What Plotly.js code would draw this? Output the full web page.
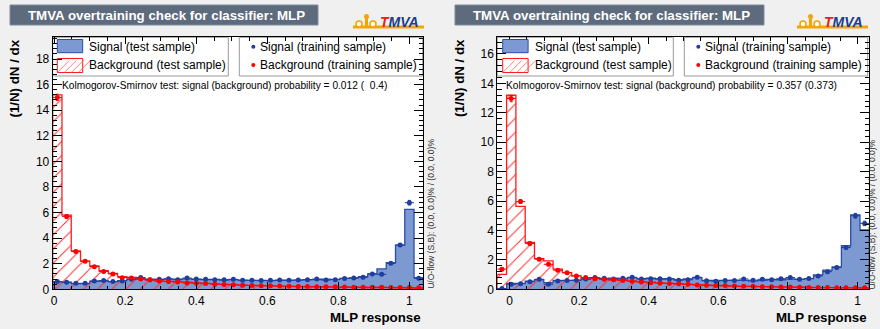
<!DOCTYPE html>
<html><head><meta charset="utf-8">
<script src="https://cdn.plot.ly/plotly-3.0.1.min.js"></script>
<style>html,body{margin:0;padding:0;background:#f0f0f0;}#chart{width:880px;height:329px;}</style>
</head><body><div id="chart"></div>
<script>
// ---------------- data ----------------
const NBINS = 40;
const rangeL = [-0.004, 1.039];
const rangeR = [-0.035, 1.034];
const yMaxL = 19.7;
const yMaxR = 17.13;
const xTickVals = [0, 0.2, 0.4, 0.6, 0.8, 1];
const xTickText = ["0", "0.2", "0.4", "0.6", "0.8", "1"];

const sigTestL  = [0.6, 0.55, 0.45, 0.45, 0.62, 0.65, 0.6, 0.68, 0.8, 0.85, 0.8, 0.78, 0.8, 0.8, 0.82, 0.78, 0.75, 0.78, 0.72, 0.75, 0.72, 0.7, 0.7, 0.68, 0.7, 0.72, 0.72, 0.75, 0.75, 0.8, 0.78, 0.85, 0.9, 0.98, 1.2, 1.59, 2.08, 3.46, 6.25, 0.91];
const sigTrainL = [0.6, 0.55, 0.47, 0.47, 0.65, 0.68, 0.6, 0.65, 0.78, 0.92, 0.75, 0.78, 0.82, 0.75, 0.88, 0.8, 0.78, 0.75, 0.75, 0.78, 0.7, 0.7, 0.68, 0.7, 0.72, 0.7, 0.72, 0.75, 0.8, 0.72, 0.75, 0.85, 0.88, 0.95, 1.2, 1.17, 2.03, 3.46, 6.77, 0.86];
const bgTestL   = [15.2, 5.8, 3.0, 2.2, 1.82, 1.45, 1.25, 0.99, 0.94, 0.8, 0.72, 0.66, 0.62, 0.58, 0.55, 0.5, 0.46, 0.42, 0.38, 0.35, 0.33, 0.3, 0.28, 0.26, 0.25, 0.23, 0.22, 0.2, 0.2, 0.18, 0.17, 0.16, 0.16, 0.15, 0.14, 0.14, 0.13, 0.12, 0.1, 0.08];
const bgTrainL  = [15.0, 5.7, 2.95, 2.2, 1.77, 1.4, 1.2, 0.91, 0.88, 0.8, 0.75, 0.64, 0.6, 0.58, 0.5, 0.48, 0.45, 0.4, 0.38, 0.36, 0.32, 0.3, 0.28, 0.27, 0.25, 0.24, 0.22, 0.21, 0.2, 0.2, 0.19, 0.18, 0.17, 0.17, 0.16, 0.16, 0.15, 0.15, 0.14, 0.12];
const sigErrL   = [0.04, 0.04, 0.04, 0.04, 0.04, 0.04, 0.04, 0.04, 0.05, 0.05, 0.04, 0.04, 0.05, 0.04, 0.05, 0.05, 0.04, 0.04, 0.04, 0.04, 0.04, 0.04, 0.04, 0.04, 0.04, 0.04, 0.04, 0.04, 0.05, 0.04, 0.04, 0.05, 0.05, 0.05, 0.06, 0.06, 0.08, 0.1, 0.18, 0.05];
const bgErrL    = [0.25, 0.14, 0.1, 0.08, 0.07, 0.06, 0.06, 0.05, 0.05, 0.05, 0.04, 0.04, 0.04, 0.04, 0.04, 0.04, 0.03, 0.03, 0.03, 0.03, 0.03, 0.03, 0.03, 0.03, 0.03, 0.03, 0.03, 0.03, 0.03, 0.03, 0.03, 0.03, 0.03, 0.03, 0.03, 0.03, 0.03, 0.03, 0.03, 0.03];

const sigTestR  = [0.05, 0.4, 0.4, 0.55, 0.65, 0.45, 0.6, 0.6, 0.6, 0.7, 0.75, 0.72, 0.75, 0.7, 0.8, 0.72, 0.75, 0.7, 0.72, 0.65, 0.7, 0.8, 0.6, 0.6, 0.6, 0.62, 0.6, 0.55, 0.6, 0.68, 0.65, 0.7, 0.68, 0.73, 0.98, 1.3, 1.52, 2.96, 5.05, 4.03];
const sigTrainR = [0.05, 0.34, 0.38, 0.52, 0.68, 0.34, 0.57, 0.6, 0.62, 0.7, 0.8, 0.75, 0.7, 0.75, 0.82, 0.7, 0.72, 0.72, 0.7, 0.62, 0.65, 0.82, 0.58, 0.55, 0.6, 0.6, 0.7, 0.62, 0.68, 0.65, 0.72, 0.8, 0.68, 0.73, 0.91, 1.2, 1.48, 2.84, 5.0, 4.48];
const bgTestR   = [1.02, 13.19, 5.64, 3.18, 2.09, 1.93, 1.37, 1.13, 0.91, 0.79, 0.75, 0.7, 0.62, 0.6, 0.55, 0.5, 0.48, 0.42, 0.4, 0.36, 0.33, 0.3, 0.28, 0.26, 0.24, 0.22, 0.2, 0.2, 0.18, 0.17, 0.16, 0.15, 0.14, 0.13, 0.12, 0.12, 0.11, 0.1, 0.1, 0.08];
const bgTrainR  = [1.37, 12.97, 5.96, 3.11, 2.05, 1.7, 1.3, 1.13, 0.91, 0.8, 0.72, 0.68, 0.65, 0.6, 0.55, 0.5, 0.45, 0.42, 0.4, 0.38, 0.34, 0.3, 0.28, 0.26, 0.25, 0.22, 0.2, 0.2, 0.18, 0.17, 0.16, 0.15, 0.14, 0.13, 0.12, 0.12, 0.11, 0.1, 0.1, 0.1];
const sigErrR   = [0.02, 0.04, 0.04, 0.05, 0.05, 0.04, 0.05, 0.05, 0.05, 0.05, 0.05, 0.05, 0.05, 0.05, 0.05, 0.05, 0.05, 0.05, 0.05, 0.05, 0.05, 0.05, 0.05, 0.05, 0.05, 0.05, 0.05, 0.05, 0.05, 0.05, 0.05, 0.05, 0.05, 0.05, 0.06, 0.07, 0.08, 0.11, 0.16, 0.15];
const bgErrR    = [0.08, 0.22, 0.13, 0.1, 0.08, 0.07, 0.06, 0.05, 0.05, 0.05, 0.05, 0.04, 0.04, 0.04, 0.04, 0.04, 0.04, 0.04, 0.04, 0.03, 0.03, 0.03, 0.03, 0.03, 0.03, 0.03, 0.03, 0.03, 0.03, 0.03, 0.03, 0.03, 0.03, 0.03, 0.03, 0.03, 0.03, 0.03, 0.03, 0.03];

const titleText = "TMVA overtraining check for classifier: MLP";
const ksTextL = "Kolmogorov-Smirnov test: signal (background) probability = 0.012 (  0.4)";
const ksTextR = "Kolmogorov-Smirnov test: signal (background) probability = 0.357 (0.373)";
const uoText = "U/O-flow (S,B): (0.0, 0.0)% / (0.0, 0.0)%";
const legendLabels = ["Signal (test sample)", "Background (test sample)", "Signal (training sample)", "Background (training sample)"];
const xTitle = "MLP response";
const yTitle = "(1/N) dN / dx";

// ---------------- style ----------------
const W = 880, H = 329;
const FONT = "Liberation Sans, Arial, Helvetica, sans-serif";
const SIG_FILL = "#7d99d1", SIG_LINE = "#2a4ea6", SIG_MARK = "#1f3f9e";
const BG_LINE = "#ff1a1a", BG_MARK = "#ff0000";
const px = x => x / W;
const py = y => 1 - y / H;

function stepXY(vals, r) {
  const w = (r[1] - r[0]) / NBINS;
  const xs = [r[0]], ys = [0];
  for (let i = 0; i < NBINS; i++) { xs.push(r[0] + i * w); ys.push(vals[i]); }
  xs.push(r[1]); ys.push(vals[NBINS - 1]);
  xs.push(r[1]); ys.push(0);
  return {xs, ys};
}
function centers(r) {
  const w = (r[1] - r[0]) / NBINS;
  return Array.from({length: NBINS}, (_, i) => r[0] + (i + 0.5) * w);
}

function panelTraces(r, sigT, bgT, sigTr, bgTr, sErr, bErr, xa, ya) {
  const w = (r[1] - r[0]) / NBINS;
  const s = stepXY(sigT, r), b = stepXY(bgT, r);
  const c = centers(r);
  return [
    {type: "scatter", mode: "lines", x: s.xs, y: s.ys, xaxis: xa, yaxis: ya,
     line: {shape: "hv", color: SIG_LINE, width: 1.3}, fill: "tozeroy", fillcolor: SIG_FILL, hoverinfo: "skip"},
    {type: "scatter", mode: "lines", x: b.xs, y: b.ys, xaxis: xa, yaxis: ya,
     line: {shape: "hv", color: BG_LINE, width: 1.3}, fill: "tozeroy", fillcolor: "rgba(0,0,0,0)",
     fillpattern: {shape: "/", fgcolor: "#ff3030", bgcolor: "rgba(255,255,255,0)", size: 10, solidity: 0.1},
     hoverinfo: "skip"},
    {type: "scatter", mode: "markers", x: c, y: sigTr, xaxis: xa, yaxis: ya,
     marker: {color: SIG_MARK, size: 5},
     error_x: {type: "constant", value: w / 2, width: 0, thickness: 1, color: SIG_MARK},
     error_y: {type: "data", array: sErr, width: 1.5, thickness: 1, color: SIG_MARK}},
    {type: "scatter", mode: "markers", x: c, y: bgTr, xaxis: xa, yaxis: ya,
     marker: {color: BG_MARK, size: 5},
     error_x: {type: "constant", value: w / 2, width: 0, thickness: 1, color: BG_MARK},
     error_y: {type: "data", array: bErr, width: 1.5, thickness: 1, color: BG_MARK}}
  ];
}

const traces = [
  ...panelTraces(rangeL, sigTestL, bgTestL, sigTrainL, bgTrainL, sigErrL, bgErrL, "x", "y"),
  ...panelTraces(rangeR, sigTestR, bgTestR, sigTrainR, bgTrainR, sigErrR, bgErrR, "x2", "y2")
];

const plotTop = 37.3, plotBot = 289.3;
const panels = [
  {x0: 52.7, x1: 423.3, r: rangeL, ymax: yMaxL, ks: ksTextL, uo: 431.5},
  {x0: 497.3, x1: 869.3, r: rangeR, ymax: yMaxR, ks: ksTextR, uo: 872.3}
];

function xAxis(p, anchor) {
  return {domain: [px(p.x0), px(p.x1)], range: p.r, anchor: anchor,
    tickmode: "array", tickvals: xTickVals, ticktext: xTickText,
    ticks: "inside", ticklen: 7, tickwidth: 1, tickcolor: "#000",
    minor: {dtick: 0.05, tick0: 0, ticks: "inside", ticklen: 3.5, tickcolor: "#000", tickwidth: 1},
    showline: true, linecolor: "#000", linewidth: 1, mirror: "allticks",
    showgrid: false, zeroline: false,
    tickfont: {family: FONT, size: 12, color: "#000"}, fixedrange: true};
}
function yAxis(p, anchor) {
  return {domain: [py(plotBot), py(plotTop)], range: [0, p.ymax], anchor: anchor,
    tickmode: "linear", tick0: 0, dtick: 2,
    ticks: "inside", ticklen: 9, tickwidth: 1, tickcolor: "#000",
    minor: {dtick: 0.4, tick0: 0, ticks: "inside", ticklen: 4.5, tickcolor: "#000", tickwidth: 1},
    showline: true, linecolor: "#000", linewidth: 1, mirror: "allticks",
    showgrid: false, zeroline: false,
    tickfont: {family: FONT, size: 12, color: "#000"}, fixedrange: true};
}

const shapes = [], annotations = [];
const titleBoxes = [[10, 318], [455, 764]];
const logoX = [353, 797];
const legendGeo = [
  {b1: [52.7, 228.3], b2: [239.3, 422.7], rect: 57.3, txt1: 87.3, dot: 253.3, txt2: 258.3},
  {b1: [497.3, 673.3], b2: [684.3, 867.7], rect: 502.7, txt1: 533.3, dot: 698.3, txt2: 703.3}
];
panels.forEach((p, k) => {
  const tb = titleBoxes[k];
  shapes.push({type: "rect", xref: "paper", yref: "paper", x0: px(tb[0]), x1: px(tb[1]), y0: py(25), y1: py(5),
    fillcolor: "#5d6b7d", line: {color: "#7d8b9d", width: 1}, layer: "below"});
  annotations.push({xref: "paper", yref: "paper", x: px(tb[0] + 16), y: py(15), xanchor: "left", yanchor: "middle",
    text: "<b>" + titleText + "</b>", showarrow: false, font: {family: FONT, size: 13.3, color: "#fff"}});
  const g = legendGeo[k];
  shapes.push({type: "rect", xref: "paper", yref: "paper", x0: px(g.b1[0]), x1: px(g.b1[1]), y0: py(76), y1: py(plotTop),
    fillcolor: "#fff", line: {color: "#999", width: 1}, layer: "below"});
  shapes.push({type: "rect", xref: "paper", yref: "paper", x0: px(g.b2[0]), x1: px(g.b2[1]), y0: py(76), y1: py(plotTop),
    fillcolor: "#fff", line: {color: "#999", width: 1}, layer: "below"});
  shapes.push({type: "rect", xref: "paper", yref: "paper", x0: px(g.rect), x1: px(g.rect + 25.4), y0: py(52.7), y1: py(39.5),
    fillcolor: SIG_FILL, line: {color: SIG_LINE, width: 1}, layer: "above"});
  shapes.push({type: "rect", xref: "paper", yref: "paper", x0: px(g.rect), x1: px(g.rect + 25.4), y0: py(72.5), y1: py(58.5),
    fillcolor: "rgba(0,0,0,0)", line: {color: BG_LINE, width: 1}, layer: "above"});
  for (let j = 0; j < 4; j++) {
    const lx = g.rect + 2 + j * 7;
    shapes.push({type: "line", xref: "paper", yref: "paper", x0: px(lx - 2), y0: py(72.5), x1: px(lx + 10), y1: py(60.5),
      line: {color: "#ff6060", width: 0.8}, layer: "above"});
  }
  shapes.push({type: "circle", xref: "paper", yref: "paper", x0: px(g.dot - 2), x1: px(g.dot + 2), y0: py(48.7), y1: py(44.7),
    fillcolor: SIG_MARK, line: {width: 0}, layer: "above"});
  shapes.push({type: "circle", xref: "paper", yref: "paper", x0: px(g.dot - 2), x1: px(g.dot + 2), y0: py(67), y1: py(63),
    fillcolor: BG_MARK, line: {width: 0}, layer: "above"});
  [[g.txt1, 46.7, 0], [g.txt1, 65, 1], [g.txt2, 46.7, 2], [g.txt2, 65, 3]].forEach(([x, y, i]) => {
    annotations.push({xref: "paper", yref: "paper", x: px(x), y: py(y), xanchor: "left", yanchor: "middle",
      text: legendLabels[i], showarrow: false, font: {family: FONT, size: 12, color: "#000"}});
  });
  annotations.push({xref: "paper", yref: "paper", x: px(p.x0 + 7), y: py(85), xanchor: "left", yanchor: "middle",
    text: p.ks, showarrow: false, font: {family: FONT, size: 10.2, color: "#000"}});
  annotations.push({xref: "paper", yref: "paper", x: px(p.x1), y: py(317), xanchor: "right", yanchor: "middle",
    text: "<b>" + xTitle + "</b>", showarrow: false, font: {family: FONT, size: 13.3, color: "#000"}});
  annotations.push({xref: "paper", yref: "paper", x: px(p.x0 - 38.5), y: py(plotTop), xanchor: "center", yanchor: "top",
    text: "<b>" + yTitle + "</b>", textangle: -90, showarrow: false, font: {family: FONT, size: 13.3, color: "#000"}});
  annotations.push({xref: "paper", yref: "paper", x: px(p.uo), y: py(plotBot + 1), xanchor: "center", yanchor: "bottom",
    text: uoText, textangle: -90, showarrow: false, borderpad: 0, font: {family: FONT, size: 8.5, color: "#333"}});
  const lx = logoX[k];
  shapes.push({type: "rect", xref: "paper", yref: "paper", x0: px(lx), x1: px(lx + 71), y0: py(28.5), y1: py(25.5),
    fillcolor: "#f5a300", line: {width: 0}, layer: "above"});
  shapes.push({type: "circle", xref: "paper", yref: "paper", x0: px(lx + 11), x1: px(lx + 16), y0: py(19), y1: py(14),
    fillcolor: "#f5a300", line: {width: 0}, layer: "above"});
  shapes.push({type: "rect", xref: "paper", yref: "paper", x0: px(lx + 12), x1: px(lx + 15), y0: py(26), y1: py(18.5),
    fillcolor: "#f5a300", line: {width: 0}, layer: "above"});
  shapes.push({type: "circle", xref: "paper", yref: "paper", x0: px(lx + 3), x1: px(lx + 9), y0: py(27), y1: py(21),
    fillcolor: "#fff", line: {color: "#f5a300", width: 1.5}, layer: "above"});
  shapes.push({type: "circle", xref: "paper", yref: "paper", x0: px(lx + 17), x1: px(lx + 23), y0: py(27), y1: py(21),
    fillcolor: "#fff", line: {color: "#f5a300", width: 1.5}, layer: "above"});
  annotations.push({xref: "paper", yref: "paper", x: px(lx + 25), y: py(21.5), xanchor: "left", yanchor: "middle",
    text: "<b><i><span style='color:#e8201a'>T</span><span style='color:#1c3c8c'>MVA</span></i></b>",
    showarrow: false, font: {family: FONT, size: 14}});
});

const layout = {
  width: W, height: H, margin: {l: 0, r: 0, t: 0, b: 0},
  paper_bgcolor: "#f0f0f0", plot_bgcolor: "#ffffff", showlegend: false,
  xaxis: xAxis(panels[0], "y"), yaxis: yAxis(panels[0], "x"),
  xaxis2: xAxis(panels[1], "y2"), yaxis2: yAxis(panels[1], "x2"),
  shapes: shapes, annotations: annotations
};
Plotly.newPlot("chart", traces, layout, {staticPlot: true, displayModeBar: false});
</script></body></html>
